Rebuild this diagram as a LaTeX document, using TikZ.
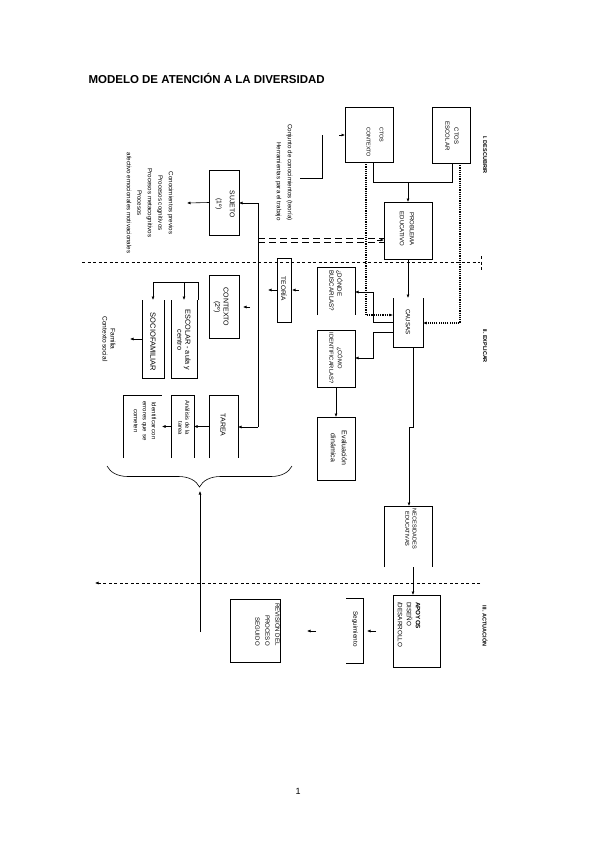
\documentclass[tikz,border=0pt]{standalone}
\usepackage{fontspec}
\setmainfont{Liberation Sans}
\usetikzlibrary{arrows.meta,decorations.pathreplacing,calc}
\newcommand{\fsz}[2]{\fontsize{#1}{#2}\selectfont}
\begin{document}
\begin{tikzpicture}[x=1pt,y=-1pt,
  bx/.style={draw, line width=0.7pt, inner sep=0, outer sep=0},
  bxopen/.style={inner sep=0, outer sep=0},
  rot/.style={rotate=-90, align=center, inner sep=0, font=\fontsize{5.5}{6.6}\selectfont},
  rotb/.style={rot, font=\bfseries\fontsize{5.5}{6.6}\selectfont},
  ln/.style={line width=0.6pt},
  arr/.style={-{Latex[length=3.5pt,width=3pt]}},
  dotl/.style={line width=1.2pt, dash pattern=on 1.1pt off 1.1pt},
  divl/.style={line width=0.6pt, dash pattern=on 3pt off 2.5pt},
  side/.style={line width=0.7pt}]
\useasboundingbox (0,0) rectangle (599,848);

% title and page number
\node[anchor=west, font=\bfseries\fontsize{11.5}{13}\selectfont] (title) at (85,78) {MODELO DE ATENCIÓN A LA DIVERSIDAD};
\node[font=\fontsize{9}{11}\selectfont] (pg) at (298,791) {1};

% boxes
\node[bx, minimum width=48pt, minimum height=55pt] (ctxt) at (369,134.5) {};
\node[bx, minimum width=38pt, minimum height=56pt] (cesc) at (451,135) {};
\node[bx, minimum width=48pt, minimum height=57pt] (prob) at (408,230.5) {};
\node[bx, minimum width=30pt, minimum height=65pt] (sujeto) at (224,202.5) {};
\node[bx, minimum width=30pt, minimum height=63pt] (contexto) at (224,306.5) {};
\node[bx, minimum width=14pt, minimum height=64pt] (teoria) at (284,290) {};
\node[bxopen, minimum width=38pt, minimum height=48pt] (donde) at (336,291) {};
\node[bx, minimum width=38pt, minimum height=57pt] (como) at (336,358.5) {};
\node[bxopen, minimum width=30pt, minimum height=49pt] (causas) at (408,322.5) {};
\node[bx, minimum width=38pt, minimum height=63pt] (eval) at (336,448.5) {};
\node[bxopen, minimum width=26pt, minimum height=78pt] (escolar) at (184,339) {};
\node[bxopen, minimum width=22pt, minimum height=78pt] (socio) at (153,339) {};
\node[bxopen, minimum width=29pt, minimum height=63pt] (tarea) at (223.5,426.5) {};
\node[bxopen, minimum width=23pt, minimum height=63pt] (analisis) at (182.5,426.5) {};
\node[bxopen, minimum width=39pt, minimum height=63pt] (ident) at (142.5,426.5) {};
\node[bxopen, minimum width=48pt, minimum height=61pt] (neces) at (408,536.5) {};
\node[bx, minimum width=47pt, minimum height=72pt] (apoyos) at (416.5,631) {};
\node[bxopen, minimum width=17pt, minimum height=65pt] (segui) at (354.5,630.5) {};
\node[bx, minimum width=50pt, minimum height=63pt] (revision) at (255,630.5) {};

% open-sided boxes
\draw[side] (donde.south west) -- (donde.north west) -- (donde.north east) -- (donde.south east);
\draw[side] (causas.north west) -- (causas.south west) -- (causas.south east) -- (causas.north east);
\draw[side] (escolar.north west) -- (escolar.south west) -- (escolar.south east) -- (escolar.north east);
\draw[side] (socio.north west) -- (socio.south west) -- (socio.south east) -- (socio.north east);
\draw[side] (tarea.south west) -- (tarea.north west) -- (tarea.north east) -- (tarea.south east);
\draw[side] (analisis.south west) -- (analisis.north west) -- (analisis.north east) -- (analisis.south east);
\draw[side] (ident.south west) -- (ident.north west) -- (ident.north east);
\draw[side] (neces.south west) -- (neces.north west) -- (neces.north east) -- (neces.south east);
\draw[side] (segui.north west) -- (segui.north east) -- (segui.south east) -- (segui.south west);

% box texts
\node[rot, anchor=west, align=left, font=\fsz{5.4}{13}] (tctxt) at (375,127) {CTOS\\CONTEXTO};
\node[rot, font=\fsz{6}{9}] (tcesc) at (452,136) {CTOS\\ESCOLAR};
\node[rot, font=\fsz{6}{10}] (tprob) at (407,229) {PROBLEMA\\EDUCATIVO};
\node[rot, font=\fsz{6.8}{13}] (tsuj) at (225,204) {SUJETO\\(1º)};
\node[rot, font=\fsz{7}{8.5}] (tcon) at (221,307) {CONTEXTO\\(2º)};
\node[rot, font=\fsz{6.5}{8}] (tteo) at (284,289) {TEORÍA};
\node[rot, anchor=west, align=left, font=\fsz{6.2}{8}] (tdon) at (336,270) {¿DÓNDE\\BUSCARLAS?};
\node[rot, font=\fsz{5.8}{8.5}] (tcom) at (336,358) {¿CÓMO\\IDENTIFICARLAS?};
\node[rot, font=\fsz{6.2}{8}] (tcau) at (408,322) {CAUSAS};
\node[rot, font=\fsz{7}{11}] (teva) at (339,448) {Evaluación\\dinámica};
\node[rot, font=\fsz{7.3}{8.2}] (tesc) at (184,340) {ESCOLAR - aula y\\centro};
\node[rot, font=\fsz{7.5}{9}] (tsoc) at (153,342) {SOCIOFAMILIAR};
\node[rot, font=\fsz{7}{9}] (ttar) at (223,425) {TAREA};
\node[rot, anchor=east, align=right, font=\fsz{5.8}{7.2}] (tana) at (184,435) {Análisis de la\\tarea};
\node[rot, font=\fsz{6}{9}] (tide) at (145,421) {Identificar con\\errores que se\\cometen};
\node[rot, font=\fsz{5.6}{7.2}] (tnec) at (411,529) {NECESIDADES\\EDUCATIVAS};
\node[rot, anchor=west, align=left, font=\fsz{6.3}{9}] (tapo) at (409,602) {\textbf{APOYOS}\\DISEÑO\\/DESARROLLO};
\node[rot, font=\fsz{6.3}{8}] (tseg) at (355,629) {Seguimiento};
\node[rot, anchor=east, align=right, font=\fsz{6.1}{10}] (trev) at (268,646) {REVISIÓN DEL\\PROCESO\\SEGUIDO};

% free texts
\node[rot, align=right, font=\fontsize{6.2}{11}\selectfont] (conj) at (284,172.5) {Conjunto de conocimientos (teoría)\\Herramientas para el trabajo};
\node[rot, font=\fontsize{6.2}{10.5}\selectfont] (sujtxt) at (150,203) {Conocimientos previos\\Procesos cognitivos\\Procesos metacognitivos\\Procesos\\afectivo emocionales motivacionales};
\node[rot, font=\fontsize{6.6}{8}\selectfont] (fam) at (109,339) {Familia\\Contexto social};
\node[rotb] (lab1) at (485,155) {I. DESCUBRIR};
\node[rotb] (lab2) at (485,346) {II. EXPLICAR};
\node[rotb] (lab3) at (485,626) {III. ACTUACIÓN};

% dividers
\draw[divl] (82,262) -- (480,262);
\draw[divl] (481,256) -- (481,270);
\draw[divl, arr] (480,583) -- (95,583);

% conocimientos bracket
\coordinate (cj1) at (322,135);
\coordinate (cj2) at (322,178);
\coordinate (cj3) at (300,178);
\draw[ln] (cj1) -- (cj2) -- (cj3);
\draw[ln, arr, shorten <=17pt] (cj1) -- (ctxt.west |- cj1);

% top connections
\draw[ln] (373,0 |- ctxt.south) -- (373,182) -- (452,182) -- (452,0 |- cesc.south);
\draw[ln, arr] (408,182) -- (prob.north);
\draw[dotl, arr] (366,0 |- ctxt.south) -- (366,315) -- (causas.west |- 0,315);
\draw[dotl, arr] (460,0 |- cesc.south) -- (460,323) -- (causas.east |- 0,323);
\draw[ln, arr] (prob.south) -- (causas.north);
\draw[ln, arr] (causas.west |- 0,322) -- (373,322) -- (373,292) -- (donde.east |- 0,292);
\draw[ln, arr] (causas.west |- 0,332) -- (373,332) -- (373,358) -- (como.east |- 0,358);
\draw[ln, arr] (como.south) -- (eval.north);
\draw[ln, arr] (413,0 |- causas.south) -- (413,427) -- (409,427) -- (409,0 |- neces.north);
\draw[ln, arr] (413,0 |- neces.south) -- (413,0 |- apoyos.north);

% double dashed to problema
\draw[line width=0.9pt, dash pattern=on 7pt off 4pt] (258,238) -- (prob.west |- 0,238);
\draw[line width=0.9pt, dash pattern=on 7pt off 4pt] (258,242) -- (prob.west |- 0,242);
\draw[ln, arr] (377,240) -- (prob.west |- 0,240);

% vertical spine to sujeto / contexto / tarea
\coordinate (vt) at (258,203);
\coordinate (vb) at (258,427);
\draw[ln] (vt) -- (vb);
\draw[ln, arr] (vt) -- (sujeto.east |- vt);
\draw[ln, arr] (vb) -- (tarea.east |- vb);
\draw[ln, arr, shorten <=8pt, shorten >=4pt] (258,307) -- (contexto.east |- 0,307);

% teoria
\coordinate (tl) at (268,290);
\draw[ln, arr] (teoria.west) -- (tl);
\draw[ln, arr, shorten <=18pt, shorten >=1pt] (donde.west |- 0,290) -- (teoria.east);

% sujeto out
\coordinate (sl) at (187,203);
\draw[ln, arr] (sujeto.west) -- (sl);

% contexto fork
\draw[ln] (198,300) -- (198,282) -- (socio.north |- 0,282);
\draw[ln, arr] (socio.north |- 0,282) -- (socio.north);
\draw[ln, arr] (escolar.north |- 0,282) -- (escolar.north);
\coordinate (fl) at (130,339);
\draw[ln, arr] (socio.west) -- (fl);

% tarea chain
\draw[ln, arr] (tarea.west) -- (analisis.east);
\draw[ln, arr] (analisis.west) -- (ident.east);

% brace and arrow up
\draw[line width=0.6pt, decorate, decoration={brace, amplitude=21pt, mirror}] (107,466) -- (292,466);
\coordinate (bup) at (200,632);
\coordinate (btip) at (200,491);
\draw[ln, arr] (bup) -- (btip);

% actuacion chain
\draw[ln, arr, shorten <=17pt, shorten >=4pt] (apoyos.west) -- (segui.east |- apoyos.west);
\draw[ln, arr, shorten <=30pt, shorten >=27pt] (segui.west |- apoyos.west) -- (revision.east |- apoyos.west);
\end{tikzpicture}
\end{document}
